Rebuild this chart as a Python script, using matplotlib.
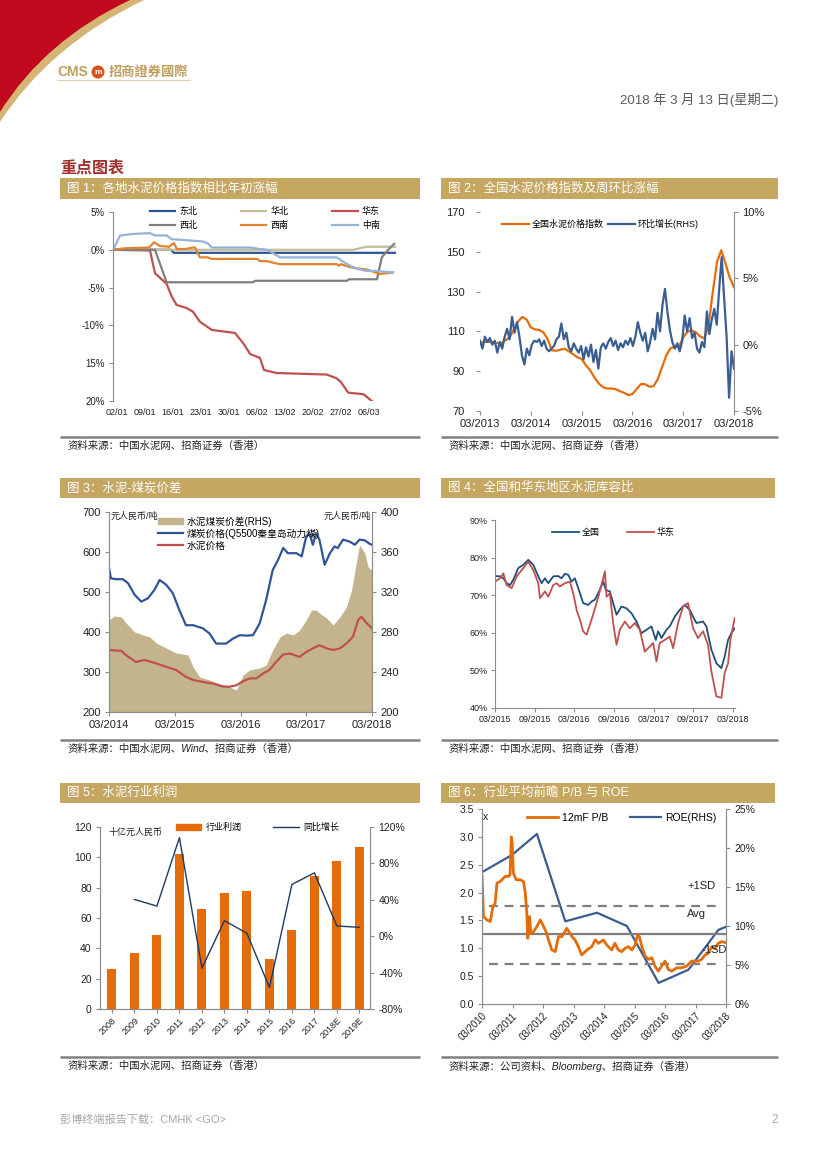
import numpy as np
import matplotlib
matplotlib.use('Agg')
import matplotlib.pyplot as plt
from matplotlib.patches import Rectangle, PathPatch, Circle, Patch
from matplotlib.path import Path
from matplotlib.lines import Line2D

plt.rcParams['font.family'] = ['Liberation Sans', 'Noto Sans CJK SC', 'DejaVu Sans']

# ---------------- data ----------------
# chart 1: days since 01/01/2018, change vs start of year (%)
c1_ticks = [1, 8, 15, 22, 29, 36, 43, 50, 57, 64]
c1_ticklabels = ['02/01', '09/01', '16/01', '23/01', '30/01', '06/02', '13/02', '20/02', '27/02', '06/03']
db_d = [0, 14.5, 15.2, 70.5]
db_v = [0, 0, -0.4, -0.4]
hb_d = [0, 60, 63.4, 70.5]
hb_v = [0, 0, 0.4, 0.4]
hd_d = [0, 9.25, 10.5, 13.4, 14.7, 15.9, 18.4, 20, 21.7, 24.7, 30.5, 32.6, 34.3, 36.75, 37.75, 40.9,
        53.4, 55.9, 57, 58.8, 62.6, 64.7]
hd_v = [0, -0.1, -3.1, -4.5, -6.2, -7.3, -7.7, -8.2, -9.5, -10.6, -11.0, -12.4, -13.8, -14.3, -15.9, -16.3,
        -16.5, -17.0, -17.5, -18.9, -19.1, -20.0]
xb_d = [0, 10.5, 13.4, 35, 35.5, 58.5, 59, 66, 67.2, 68.8, 70.3]
xb_v = [0, 0, -4.3, -4.3, -4.1, -4.1, -3.9, -3.9, -1.0, 0.0, 0.8]
xn_d = [0, 3, 9, 10.3, 11.7, 14, 15.2, 16, 18, 20, 20.5, 21.7, 23.7, 24.6, 36, 36.75, 38.5, 40, 41.7,
        55.9, 56.5, 57, 59.25, 61.7, 63.4, 66.7, 70]
xn_v = [0, 0.2, 0.3, 1.0, 0.5, 0.4, 0.9, 0.1, 0.1, 0.3, 0.3, -1.0, -1.0, -1.2, -1.2, -1.5, -1.5, -1.7, -1.9,
        -1.9, -2.1, -1.9, -2.3, -2.5, -2.6, -3.2, -3.0]
zn_d = [0, 1.8, 5.1, 9.25, 10.5, 13.4, 14.7, 17.6, 20, 22.5, 23.8, 24.7, 34.3, 36.75, 38.4, 39.2, 41.7,
        55.9, 57.6, 59.25, 61, 63.4, 66, 70]
zn_v = [0, 1.9, 2.1, 2.2, 1.9, 1.9, 1.4, 1.3, 1.2, 1.1, 0.8, 0.3, 0.3, 0.1, 0.0, -0.2, -1.0,
        -1.0, -1.6, -2.1, -2.5, -2.8, -2.8, -3.0]

# chart 2: national cement price index (monthly from 03/2013) and w-o-w change (%)
c2_index = [104.3, 104.6, 104.8, 104.5, 104.2, 104.0, 105.5, 107, 111, 115,
            117.3, 116, 112, 111, 110.7, 109.5, 106, 100.5, 100.3, 100.8, 101.3, 100,
            98.5, 97, 96.2, 93, 90.5, 87, 84, 82, 81.3, 81.3, 81.0, 80,
            79.2, 78.0, 78.5, 81, 83.5, 83.5, 82.2, 82.5, 86, 92, 98, 101.5,
            102.3, 102.3, 107, 109.8, 110.5, 109.5, 107.5, 106.5, 113, 130, 145, 150.8,
            144, 137, 132.2]
c2_wow = [0.3, -0.3, 0.6, 0.2, 0.5, 0.0, 0.3, -0.6, 0.2, -0.3, 0.6, 1.2, 0.4, 2.1, 0.9, 1.7, 0.6, -0.8,
          -1.5, -0.3, -0.8, 0.0, 0.3, 0.2, 0.4, -0.1, 0.3, -0.3, -0.5, -0.3, -0.1, 0.4, 0.6, 1.6, 0.4,
          0.9, -0.2, -0.5, 0.1, -0.3, -0.6, -0.1, -1.1, -0.2, -0.9, 0.0, -1.3, -0.4, -1.8, -0.2, 0.1,
          -0.3, 0.2, 0.5, -0.1, 0.3, -0.4, 0.1, -0.2, 0.3, 0.0, 0.5, -0.1, 0.6, 1.7, 0.9, 0.3, 0.9,
          -0.5, 0.2, 1.2, 0.4, 2.4, 1.0, 3.0, 4.2, 2.5, 1.1, 0.2, -0.3, 0.1, -0.5, 0.3, 2.2, 1.0, 2.0,
          0.5, 0.9, -0.3, -0.6, 0.2, -0.2, 2.5, 0.8, 1.9, 2.7, 1.5, 4.2, 6.6, 3.5, 0.6, -4.0, -0.5, -1.8]
c2_years = ['03/2013', '03/2014', '03/2015', '03/2016', '03/2017', '03/2018']

# chart 3: cement vs coal (decimal year, RMB/t)
coal_t = [2014.17, 2014.20, 2014.28, 2014.38, 2014.46, 2014.56, 2014.66, 2014.76, 2014.86, 2014.94,
          2015.04, 2015.14, 2015.24, 2015.34, 2015.45, 2015.60, 2015.70, 2015.80, 2015.95, 2016.06,
          2016.16, 2016.26, 2016.36, 2016.46, 2016.56, 2016.66, 2016.74, 2016.82, 2016.89, 2017.02,
          2017.10, 2017.17, 2017.22, 2017.27, 2017.32, 2017.37, 2017.45, 2017.53, 2017.60, 2017.65,
          2017.73, 2017.83, 2017.91, 2017.98, 2018.06, 2018.14, 2018.17]
coal_v = [560, 534, 532, 532, 522, 493, 476, 484, 505, 530,
          518, 497, 455, 417, 417, 409, 396, 371, 371, 384,
          392, 391, 392, 421, 480, 555, 580, 610, 597, 597,
          589, 639, 647, 618, 647, 631, 568, 597, 614, 610,
          631, 626, 618, 631, 629, 620, 618]
cem_t = [2014.17, 2014.36, 2014.43, 2014.58, 2014.71, 2014.86, 2015.04, 2015.19, 2015.34, 2015.45,
         2015.60, 2015.75, 2015.90, 2016.00, 2016.11, 2016.21, 2016.31, 2016.41, 2016.51, 2016.61,
         2016.71, 2016.82, 2016.92, 2017.07, 2017.17, 2017.27, 2017.37, 2017.48, 2017.58, 2017.68,
         2017.78, 2017.88, 2017.96, 2018.01, 2018.09, 2018.17]
cem_v = [355, 353, 342, 325, 330, 323, 313, 305, 288, 280,
         275, 271, 264, 263, 267, 277, 284, 284, 296, 305,
         325, 344, 346, 338, 350, 359, 367, 359, 355, 359,
         371, 388, 430, 438, 422, 409]
spr_t = [2014.17, 2014.25, 2014.36, 2014.43, 2014.56, 2014.69, 2014.79, 2014.89, 2015.04, 2015.19,
         2015.37, 2015.45, 2015.55, 2015.70, 2015.85, 2016.00, 2016.11, 2016.21, 2016.31, 2016.46,
         2016.56, 2016.66, 2016.77, 2016.87, 2016.97, 2017.07, 2017.17, 2017.25, 2017.32, 2017.37,
         2017.48, 2017.58, 2017.68, 2017.78, 2017.86, 2017.93, 2017.98, 2018.06, 2018.11, 2018.17]
spr_v = [292, 296, 295, 289, 280, 277, 275, 269, 264, 259,
         257, 245, 235, 232, 228, 225, 222, 237, 242, 244,
         247, 262, 275, 279, 277, 282, 292, 302, 302, 299,
         294, 287, 295, 305, 322, 349, 367, 359, 345, 342]
c3_years = ['03/2014', '03/2015', '03/2016', '03/2017', '03/2018']

# chart 4: clinker/stock ratio (months since 03/2015, %)
qg_m = [0, 0.76, 1.26, 1.76, 2.27, 2.77, 3.52, 4.28, 5.03, 5.79, 6.55, 7.05, 7.55, 8.06, 8.81, 9.57,
        10.07, 10.57, 11.08, 11.58, 12.08, 12.59, 13.34, 14.1, 14.6, 15.1, 15.61, 16.36, 16.77, 17.37,
        17.87, 18.38, 19.13, 19.89, 20.64, 21.4, 22.15, 22.91, 23.66, 24.32, 24.67, 25.18, 25.93,
        26.43, 27.19, 27.94, 28.7, 29.45, 29.96, 30.46, 31.47, 31.97, 32.73, 33.48, 34.24, 34.74,
        35.25, 35.75, 36.25]
qg_v = [75.1, 75, 74.5, 73.2, 72.7, 74.1, 77.2, 78.1, 79.4, 78.1, 75, 73.2, 74.5, 73.2, 75, 75.1,
        74.5, 75.7, 75.4, 73.6, 74.5, 71.9, 67.9, 67.4, 68.3, 68.8, 70.5, 73.6, 71.4, 71,
        67.9, 64.8, 67, 66.5, 65.2, 63, 59.9, 60.8, 61.7, 58.1, 60.4, 58.6, 60.8,
        61.7, 64.3, 66.1, 67.4, 66.1, 64.3, 62.6, 63, 61.7, 55.5, 51.9, 50.6, 53.7,
        58.1, 59.9, 61.2]
hd4_m = [0, 0.76, 1.26, 1.76, 2.52, 3.27, 4.28, 5.03, 5.79, 6.55, 6.8, 7.55, 8.06, 8.81, 9.31, 9.82,
         10.57, 11.33, 11.83, 12.34, 12.84, 13.34, 13.85, 14.6, 15.36, 16.11, 16.62, 16.87, 17.37,
         17.87, 18.38, 18.88, 19.64, 20.39, 21.15, 21.9, 22.66, 23.16, 23.92, 24.42, 24.92, 25.68,
         26.43, 26.94, 27.69, 28.45, 29.2, 29.96, 30.71, 31.47, 32.22, 32.73, 33.48, 34.24, 34.74,
         35.25, 35.6, 36.25]
hd4_v = [73.6, 74.5, 75.8, 72.7, 71.9, 75, 77.2, 78.9, 76.7, 73.2, 69.2, 71, 69.6, 72.7, 73.2, 72.3,
         73.2, 73.6, 70.5, 66.1, 63.5, 60.4, 59.5, 63.5, 67.9, 72.7, 76.3, 69.6, 70.5,
         62.6, 56.8, 60.8, 63, 61.2, 62.6, 60.8, 55.0, 55.9, 57.3, 52.4, 57.3, 58.1,
         59.0, 55.9, 62.6, 67, 67.9, 61.2, 58.6, 60.4, 56.8, 49.7, 43.1, 42.7, 49.3,
         51.9, 58.1, 63.9]
c4_ticks = ['03/2015', '09/2015', '03/2016', '09/2016', '03/2017', '09/2017', '03/2018']

# chart 5: industry profit (RMB bn) and yoy growth (%)
c5_years = ['2008', '2009', '2010', '2011', '2012', '2013', '2014', '2015', '2016', '2017', '2018E', '2019E']
c5_profit = [26.5, 37, 49, 102, 66, 76.4, 77.7, 33, 52, 87.6, 97.7, 106.6]
c5_yoy = [np.nan, 40.4, 33.1, 108.3, -35.1, 17.1, 3.2, -56.3, 56.9, 69.6, 11.2, 9.8]

# chart 6: 12m forward P/B (x) and ROE (%)
pb_t = [2010.17, 2010.22, 2010.33, 2010.44, 2010.53, 2010.60, 2010.66, 2010.77, 2010.93, 2011.04,
        2011.09, 2011.13, 2011.16, 2011.20, 2011.29, 2011.42, 2011.53, 2011.59, 2011.64, 2011.67,
        2011.73, 2011.77, 2011.86, 2011.97, 2012.08, 2012.19, 2012.27, 2012.35, 2012.46, 2012.57,
        2012.68, 2012.79, 2012.95, 2013.12, 2013.22, 2013.33, 2013.44, 2013.61, 2013.77, 2013.88,
        2013.99, 2014.15, 2014.26, 2014.42, 2014.53, 2014.64, 2014.75, 2014.86, 2014.97, 2015.08,
        2015.19, 2015.27, 2015.33, 2015.41, 2015.52, 2015.63, 2015.74, 2015.84, 2015.95, 2016.06,
        2016.17, 2016.28, 2016.39, 2016.56, 2016.72, 2016.88, 2017.04, 2017.15, 2017.26, 2017.37,
        2017.48, 2017.59, 2017.70, 2017.81, 2017.92, 2018.03, 2018.17]
pb_v = [2.29, 1.57, 1.51, 1.48, 1.75, 1.81, 2.17, 2.20, 2.29, 2.29,
        2.32, 3.00, 2.89, 2.35, 2.23, 2.23, 2.20, 1.99, 1.63, 1.18,
        1.57, 1.27, 1.30, 1.39, 1.51, 1.39, 1.30, 1.15, 0.97, 0.94,
        1.21, 1.21, 1.36, 1.21, 1.15, 1.03, 0.88, 0.97, 1.03, 1.15,
        1.09, 1.15, 1.06, 0.97, 1.09, 0.97, 0.94, 1.00, 1.03, 0.97,
        1.06, 1.24, 1.21, 1.03, 0.86, 0.80, 0.83, 0.68, 0.59, 0.68,
        0.77, 0.62, 0.59, 0.65, 0.65, 0.68, 0.77, 0.77, 0.77, 0.80,
        0.88, 0.91, 1.03, 1.00, 1.09, 1.12, 1.10]
roe_t = [2010.17, 2011.15, 2011.97, 2012.90, 2013.94, 2014.92, 2015.96, 2016.94, 2017.92, 2018.17]
roe_v = [16.9, 19.1, 21.8, 10.6, 11.7, 10.0, 2.7, 4.4, 9.5, 9.9]
pb_plus1sd, pb_avg, pb_minus1sd = 1.76, 1.26, 0.72
c6_years = ['03/2010', '03/2011', '03/2012', '03/2013', '03/2014', '03/2015', '03/2016', '03/2017', '03/2018']

# ---------------- styles ----------------
GOLD = '#C6A762'
ORANGE = '#E46C0A'
NAVY = '#2F5597'
RED = '#C0504D'
TAN = '#C4BD97'
GREY = '#7F7F7F'
LBLUE = '#95B3D7'
TXT = '#222222'
SPINE = '#8C8C8C'

W, H = 827, 1169
fig = plt.figure(figsize=(W / 100, H / 100), dpi=100)


def rect(x0, y0, x1, y1):
    return [x0 / W, 1 - y1 / H, (x1 - x0) / W, (y1 - y0) / H]


def fpt(x, y):
    return (x / W, 1 - y / H)


bg = fig.add_axes([0, 0, 1, 1])
bg.set_xlim(0, W)
bg.set_ylim(H, 0)
bg.axis('off')

# header corner
gold_path = Path([(0, 0), (144, 0), (50, 45), (0, 122), (0, 0)],
                 [Path.MOVETO, Path.LINETO, Path.CURVE3, Path.CURVE3, Path.CLOSEPOLY])
red_path = Path([(0, 0), (130, 0), (45, 40), (0, 112), (0, 0)],
                [Path.MOVETO, Path.LINETO, Path.CURVE3, Path.CURVE3, Path.CLOSEPOLY])
bg.add_patch(PathPatch(gold_path, fc='#D4B574', ec='none'))
bg.add_patch(PathPatch(red_path, fc='#C10A1E', ec='none'))

bg.text(57, 72, 'CMS', fontsize=10, color='#BF9E5E', va='center', ha='left', fontweight='bold')
bg.add_patch(Circle((98, 72), 6.5, fc='#D9531E', ec='none'))
bg.text(98, 72.5, 'm', fontsize=6, color='white', ha='center', va='center', fontweight='bold')
bg.text(109, 72, '招商證券國際', fontsize=9.5, color='#BF9E5E', va='center', ha='left',
        family=['Noto Sans CJK TC'], fontweight='bold')
bg.plot([57, 190], [80, 80], color='#D8C59A', lw=0.6)

bg.text(778, 100, '2018 年 3 月 13 日(星期二)', fontsize=9.5, color='#595959', ha='right', va='center')
bg.text(60, 168, '重点图表', fontsize=11.5, color='#A0302B', ha='left', va='center', fontweight='bold')

titles = [((60, 178, 420, 199), '图 1：各地水泥价格指数相比年初涨幅'),
          ((441, 178, 778, 199), '图 2：全国水泥价格指数及周环比涨幅'),
          ((60, 478, 420, 498), '图 3：水泥-煤炭价差'),
          ((441, 478, 775, 498), '图 4：全国和华东地区水泥库容比'),
          ((60, 783, 420, 803), '图 5：水泥行业利润'),
          ((441, 783, 775, 803), '图 6：行业平均前瞻 P/B 与 ROE')]
for (x0, y0, x1, y1), t in titles:
    bg.add_patch(Rectangle((x0, y0), x1 - x0, y1 - y0, fc=GOLD, ec='none'))
    bg.text(x0 + 7, (y0 + y1) / 2, t, fontsize=9, color='white', va='center', ha='left')

sources = [((60, 420), 437, '资料来源：中国水泥网、招商证券（香港）'),
           ((441, 778), 437, '资料来源：中国水泥网、招商证券（香港）'),
           ((60, 420), 740, '资料来源：中国水泥网、Wind、招商证券（香港）'),
           ((441, 778), 740, '资料来源：中国水泥网、招商证券（香港）'),
           ((60, 420), 1057, '资料来源：中国水泥网、招商证券（香港）'),
           ((441, 778), 1057, '资料来源：公司资料、Bloomberg、招商证券（香港）')]
for (x0, x1), y, t in sources:
    bg.plot([x0, x1], [y, y], color='#808080', lw=1.8, solid_capstyle='butt')
    bg.text(x0 + 8, y + 9, t, fontsize=7.5, color='#222222', va='center', ha='left', style='italic')

bg.text(60, 1120, '彭博终端报告下载：CMHK <GO>', fontsize=8, color='#A6A6A6', va='center', ha='left')
bg.text(778, 1120, '2', fontsize=8.5, color='#A6A6A6', va='center', ha='right')


def style_spines(ax, show):
    for s in ['left', 'right', 'top', 'bottom']:
        ax.spines[s].set_visible(s in show)
        ax.spines[s].set_color(SPINE)
        ax.spines[s].set_linewidth(0.8)


# ---------------- chart 1 ----------------
ax1 = fig.add_axes(rect(113, 212, 397, 401))
h_db, = ax1.plot(db_d, db_v, color='#2F5496', lw=1.6)
h_hb, = ax1.plot(hb_d, hb_v, color=TAN, lw=1.6)
h_hd, = ax1.plot(hd_d, hd_v, color=RED, lw=1.6)
h_xb, = ax1.plot(xb_d, xb_v, color=GREY, lw=1.6)
h_xn, = ax1.plot(xn_d, xn_v, color='#E3832F', lw=1.6)
h_zn, = ax1.plot(zn_d, zn_v, color=LBLUE, lw=1.6)
ax1.set_xlim(0, 71)
ax1.set_ylim(-20, 5)
ax1.set_yticks([5, 0, -5, -10, -15, -20])
ax1.set_yticklabels(['5%', '0%', '-5%', '-10%', '15%', '20%'])
ax1.set_xticks(c1_ticks)
ax1.set_xticklabels(c1_ticklabels)
ax1.tick_params(axis='y', labelsize=7, colors=TXT, length=3, color=SPINE, pad=3)
ax1.tick_params(axis='x', labelsize=6.5, colors=TXT, length=0, pad=5)
style_spines(ax1, ['left'])
ax1.patch.set_visible(False)
ax1.legend([h_db, h_xb, h_hb, h_xn, h_hd, h_zn], ['东北', '西北', '华北', '西南', '华东', '中南'],
           ncol=3, loc='upper left', bbox_to_anchor=fpt(150, 207), bbox_transform=fig.transFigure,
           frameon=False, fontsize=6.5, handlelength=2.8, handletextpad=0.5, columnspacing=4.8,
           labelspacing=0.5, borderpad=0, borderaxespad=0)

# ---------------- chart 2 ----------------
ax2 = fig.add_axes(rect(480, 212, 734, 411))
ax2b = ax2.twinx()
t_idx = 2013.17 + np.arange(len(c2_index)) / 12
t_wow = np.linspace(2013.17, 2018.17, len(c2_wow))
h_idx, = ax2.plot(t_idx, c2_index, color=ORANGE, lw=1.6)
h_wow, = ax2b.plot(t_wow, c2_wow, color='#3A5E91', lw=1.6)
ax2.set_xlim(2013.17, 2018.17)
ax2.set_ylim(70, 170)
ax2.set_yticks([70, 90, 110, 130, 150, 170])
ax2b.set_ylim(-5, 10)
ax2b.set_yticks([-5, 0, 5, 10])
ax2b.set_yticklabels(['-5%', '0%', '5%', '10%'])
ax2.set_xticks(2013.17 + np.arange(len(c2_years)))
ax2.set_xticklabels(c2_years)
ax2.tick_params(axis='y', labelsize=8, colors=TXT, length=3, color=SPINE, pad=8)
ax2.tick_params(axis='x', labelsize=8, colors=TXT, length=3, color=SPINE, pad=3)
ax2b.tick_params(axis='y', labelsize=8, colors=TXT, length=3, color=SPINE, pad=3)
style_spines(ax2, [])
style_spines(ax2b, ['right'])
ax2.legend([h_idx, h_wow], ['全国水泥价格指数', '环比增长(RHS)'], ncol=2, loc='upper left',
           bbox_to_anchor=fpt(502, 219), bbox_transform=fig.transFigure, frameon=False, fontsize=6.5,
           handlelength=3.0, handletextpad=0.3, columnspacing=0.5, borderpad=0, borderaxespad=0)

# ---------------- chart 3 ----------------
ax3 = fig.add_axes(rect(109, 512, 372, 712))
ax3b = ax3.twinx()
ax3.set_zorder(ax3b.get_zorder() + 1)
ax3.patch.set_visible(False)
ax3b.fill_between(spr_t, 200, spr_v, color='#C4B48E', lw=0)
h_coal, = ax3.plot(coal_t, coal_v, color='#2F5597', lw=1.6)
h_cem, = ax3.plot(cem_t, cem_v, color=RED, lw=1.6)
ax3.set_xlim(2014.17, 2018.17)
ax3.set_ylim(200, 700)
ax3b.set_ylim(200, 400)
ax3b.set_yticks([200, 240, 280, 320, 360, 400])
ax3.set_xticks(2014.17 + np.arange(len(c3_years)))
ax3.set_xticklabels(c3_years)
ax3.tick_params(axis='both', labelsize=8, colors=TXT, length=3, color=SPINE, pad=3)
ax3b.tick_params(axis='y', labelsize=8, colors=TXT, length=3, color=SPINE, pad=3)
style_spines(ax3, ['left', 'right', 'bottom'])
style_spines(ax3b, ['left', 'right', 'bottom'])
ax3.text(0.005, 1.0, '元人民币/吨', transform=ax3.transAxes, fontsize=6.5, color=TXT, va='top', ha='left')
ax3.text(0.995, 1.0, '元人民币/吨', transform=ax3.transAxes, fontsize=6.5, color=TXT, va='top', ha='right')
ax3.legend([Patch(color='#C4B48E'), h_coal, h_cem],
           ['水泥煤炭价差(RHS)', '煤炭价格(Q5500秦皇岛动力煤)', '水泥价格'], loc='upper left',
           bbox_to_anchor=fpt(158, 516), bbox_transform=fig.transFigure, frameon=False, fontsize=7,
           handlelength=2.6, handleheight=0.5, handletextpad=0.3, labelspacing=0.2, borderpad=0,
           borderaxespad=0)

# ---------------- chart 4 ----------------
ax4 = fig.add_axes(rect(495, 520, 735, 708))
h_qg, = ax4.plot(qg_m, qg_v, color='#1F4E79', lw=1.3)
h_hd4, = ax4.plot(hd4_m, hd4_v, color=RED, lw=1.3)
ax4.set_xlim(0, 36.3)
ax4.set_ylim(40, 90)
ax4.set_yticks([40, 50, 60, 70, 80, 90])
ax4.set_yticklabels(['40%', '50%', '60%', '70%', '80%', '90%'])
ax4.set_xticks(np.arange(0, 37, 6))
ax4.set_xticklabels(c4_ticks)
ax4.tick_params(axis='both', labelsize=6.5, colors=TXT, length=3, color=SPINE, pad=2)
style_spines(ax4, ['left', 'bottom'])
ax4.patch.set_visible(False)
ax4.legend([h_qg, h_hd4], ['全国', '华东'], ncol=2, loc='upper left', bbox_to_anchor=fpt(552, 528),
           bbox_transform=fig.transFigure, frameon=False, fontsize=6.5, handlelength=3.0,
           handletextpad=0.3, columnspacing=3.0, borderpad=0, borderaxespad=0)

# ---------------- chart 5 ----------------
ax5 = fig.add_axes(rect(100, 827, 370, 1009))
ax5b = ax5.twinx()
xs = np.arange(len(c5_years))
h_bar = ax5.bar(xs, c5_profit, width=0.4, color=ORANGE)
h_yoy, = ax5b.plot(xs, c5_yoy, color='#1F3864', lw=1.0)
ax5.set_xlim(-0.53, 11.47)
ax5.set_ylim(0, 120)
ax5.set_yticks(np.arange(0, 121, 20))
ax5b.set_ylim(-80, 120)
ax5b.set_yticks([-80, -40, 0, 40, 80, 120])
ax5b.set_yticklabels(['-80%', '-40%', '0%', '40%', '80%', '120%'])
ax5.set_xticks(xs)
ax5.set_xticklabels(c5_years, rotation=45, ha='right', rotation_mode='anchor')
ax5.tick_params(axis='y', labelsize=7.5, colors=TXT, length=3, color=SPINE, pad=3)
ax5.tick_params(axis='x', labelsize=6.5, colors=TXT, length=3, color=SPINE, pad=2)
ax5b.tick_params(axis='y', labelsize=7.5, colors=TXT, length=3, color=SPINE, pad=3)
style_spines(ax5, ['left', 'right', 'bottom'])
style_spines(ax5b, ['left', 'right', 'bottom'])
ax5.text(0.03, 0.995, '十亿元人民币', transform=ax5.transAxes, fontsize=6.5, color=TXT, va='top', ha='left')
ax5.legend([Patch(color=ORANGE), h_yoy], ['行业利润', '同比增长'], ncol=2, loc='upper left',
           bbox_to_anchor=fpt(176, 823), bbox_transform=fig.transFigure, frameon=False, fontsize=6.5,
           handlelength=2.8, handleheight=0.6, handletextpad=0.5, columnspacing=3.5, borderpad=0,
           borderaxespad=0)

# ---------------- chart 6 ----------------
ax6 = fig.add_axes(rect(482, 809, 726, 1004))
ax6b = ax6.twinx()
ax6.set_zorder(ax6b.get_zorder() + 1)
ax6.patch.set_visible(False)
h_roe, = ax6b.plot(roe_t, roe_v, color='#3B5C8F', lw=1.6)
ax6.axhline(pb_avg, color='#7F7F7F', lw=1.6)
ax6.plot([2010.4, 2017.92], [pb_plus1sd, pb_plus1sd], color='#7F7F7F', lw=1.6, ls=(0, (4, 3)))
ax6.plot([2010.4, 2017.92], [pb_minus1sd, pb_minus1sd], color='#7F7F7F', lw=1.6, ls=(0, (4, 3)))
h_pb, = ax6.plot(pb_t, pb_v, color=ORANGE, lw=2.0)
ax6.set_xlim(2010.17, 2018.17)
ax6.set_ylim(0, 3.5)
ax6.set_yticks(np.arange(0, 3.6, 0.5))
ax6.set_yticklabels(['%.1f' % v for v in np.arange(0, 3.6, 0.5)])
ax6b.set_ylim(0, 25)
ax6b.set_yticks([0, 5, 10, 15, 20, 25])
ax6b.set_yticklabels(['0%', '5%', '10%', '15%', '20%', '25%'])
ax6.set_xticks(2010.17 + np.arange(len(c6_years)))
ax6.set_xticklabels(c6_years, rotation=45, ha='right', rotation_mode='anchor')
ax6.tick_params(axis='y', labelsize=7.5, colors=TXT, length=3, color=SPINE, pad=3)
ax6.tick_params(axis='x', labelsize=7, colors=TXT, length=3, color=SPINE, pad=2)
ax6b.tick_params(axis='y', labelsize=7.5, colors=TXT, length=3, color=SPINE, pad=3)
style_spines(ax6, ['left', 'right', 'bottom'])
style_spines(ax6b, ['left', 'right', 'bottom'])
ax6.text(0.005, 0.985, 'x', transform=ax6.transAxes, fontsize=7.5, color=TXT, va='top', ha='left')
ax6.text(2016.89, pb_plus1sd + 0.36, '+1SD', fontsize=8, color=TXT, ha='left', va='center')
ax6.text(2016.89, pb_avg + 0.36, 'Avg', fontsize=8, color=TXT, ha='left', va='center')
ax6.text(2017.38, pb_minus1sd + 0.25, '-1SD', fontsize=8, color=TXT, ha='left', va='center')
ax6.legend([h_pb, h_roe], ['12mF P/B', 'ROE(RHS)'], ncol=2, loc='upper left',
           bbox_to_anchor=fpt(527, 813), bbox_transform=fig.transFigure, frameon=False, fontsize=7.5,
           handlelength=3.0, handletextpad=0.4, columnspacing=2.0, borderpad=0, borderaxespad=0)

fig.savefig('out.png', dpi=100)
